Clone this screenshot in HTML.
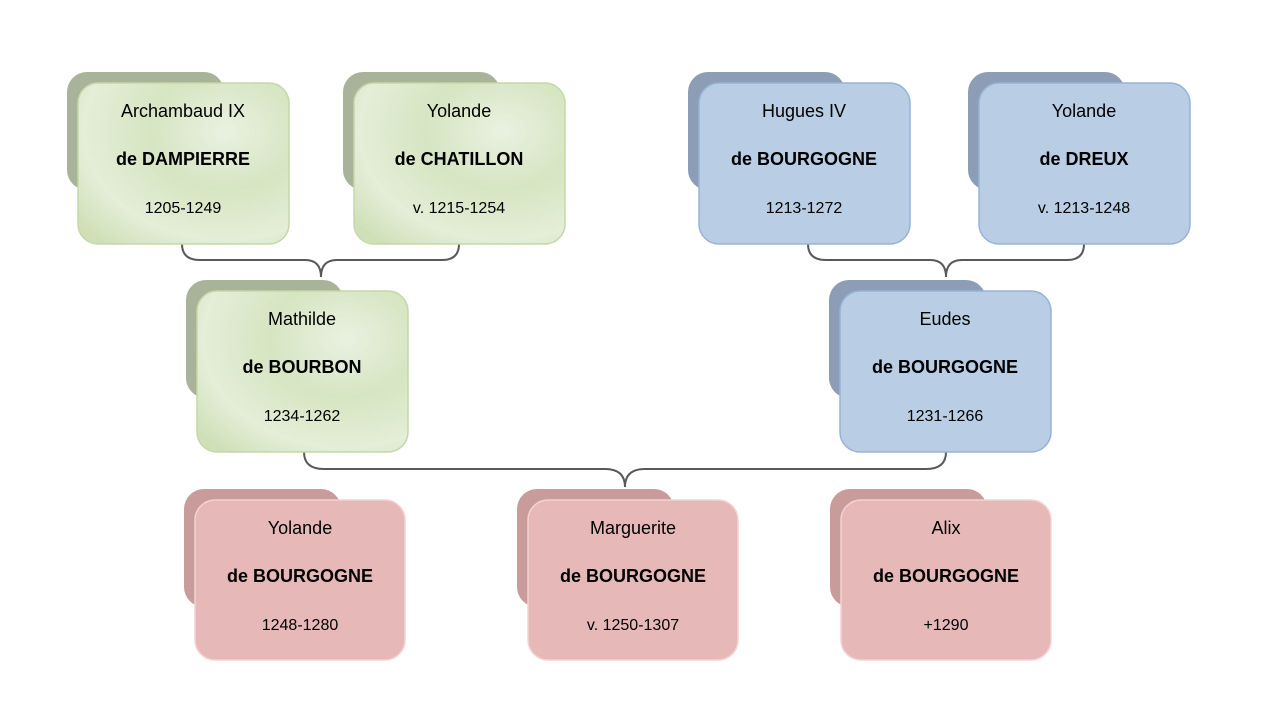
<!DOCTYPE html>
<html><head><meta charset="utf-8"><style>
html,body{margin:0;padding:0;background:#fff}
svg text{font-family:"Liberation Sans",Carlito,sans-serif;fill:#000}
</style></head><body>
<svg width="1281" height="720" viewBox="0 0 1281 720" xmlns="http://www.w3.org/2000/svg">
<defs>
<radialGradient id="g" cx="0.7" cy="0.3" r="0.9">
<stop offset="0" stop-color="#eaf1e1"/><stop offset="0.4" stop-color="#d6e5c2"/><stop offset="0.75" stop-color="#e4eed8"/><stop offset="1" stop-color="#cfe0b8"/>
</radialGradient>
</defs>
<g fill="none" stroke="#595959" stroke-width="2">
<path d="M182,244 Q182,260 200,260 L305,260 Q321,260 321,277 Q321,260 337,260 L442,260 Q459,260 459,244"/>
<path d="M808,244 Q808,260 826,260 L930,260 Q946,260 946,277 Q946,260 962,260 L1067,260 Q1084,260 1084,244"/>
<path d="M304,452 Q304,469 324,469 L605,469 Q625,469 625,487 Q625,469 645,469 L926,469 Q946,469 946,452"/>
</g>
<g font-size="18" text-anchor="middle">
<g transform="translate(78,83)"><rect x="-11" y="-11" width="157" height="118" rx="20" fill="#a9b39a"/><rect x="0" y="0" width="211" height="161" rx="20" fill="url(#g)" stroke="#c4d8a8" stroke-width="1.5"/><text x="105" y="34">Archambaud IX</text><text x="105" y="82" font-weight="bold">de DAMPIERRE</text><text x="105" y="130" font-size="16">1205-1249</text></g>
<g transform="translate(354,83)"><rect x="-11" y="-11" width="157" height="118" rx="20" fill="#a9b39a"/><rect x="0" y="0" width="211" height="161" rx="20" fill="url(#g)" stroke="#c4d8a8" stroke-width="1.5"/><text x="105" y="34">Yolande</text><text x="105" y="82" font-weight="bold">de CHATILLON</text><text x="105" y="130" font-size="16">v. 1215-1254</text></g>
<g transform="translate(197,291)"><rect x="-11" y="-11" width="157" height="118" rx="20" fill="#a9b39a"/><rect x="0" y="0" width="211" height="161" rx="20" fill="url(#g)" stroke="#c4d8a8" stroke-width="1.5"/><text x="105" y="34">Mathilde</text><text x="105" y="82" font-weight="bold">de BOURBON</text><text x="105" y="130" font-size="16">1234-1262</text></g>
<g transform="translate(699,83)"><rect x="-11" y="-11" width="157" height="118" rx="20" fill="#8d9db5"/><rect x="0" y="0" width="211" height="161" rx="20" fill="#b9cde5" stroke="#95b3d7" stroke-width="1.5"/><text x="105" y="34">Hugues  IV</text><text x="105" y="82" font-weight="bold">de BOURGOGNE</text><text x="105" y="130" font-size="16">1213-1272</text></g>
<g transform="translate(979,83)"><rect x="-11" y="-11" width="157" height="118" rx="20" fill="#8d9db5"/><rect x="0" y="0" width="211" height="161" rx="20" fill="#b9cde5" stroke="#95b3d7" stroke-width="1.5"/><text x="105" y="34">Yolande</text><text x="105" y="82" font-weight="bold">de DREUX</text><text x="105" y="130" font-size="16">v. 1213-1248</text></g>
<g transform="translate(840,291)"><rect x="-11" y="-11" width="157" height="118" rx="20" fill="#8d9db5"/><rect x="0" y="0" width="211" height="161" rx="20" fill="#b9cde5" stroke="#95b3d7" stroke-width="1.5"/><text x="105" y="34">Eudes</text><text x="105" y="82" font-weight="bold">de BOURGOGNE</text><text x="105" y="130" font-size="16">1231-1266</text></g>
<g transform="translate(195,500)"><rect x="-11" y="-11" width="157" height="118" rx="20" fill="#c99b9b"/><rect x="0" y="0" width="210" height="160" rx="20" fill="#e6b9b8" stroke="#f2d3d2" stroke-width="1.5"/><text x="105" y="34">Yolande</text><text x="105" y="82" font-weight="bold">de BOURGOGNE</text><text x="105" y="130" font-size="16">1248-1280</text></g>
<g transform="translate(528,500)"><rect x="-11" y="-11" width="157" height="118" rx="20" fill="#c99b9b"/><rect x="0" y="0" width="210" height="160" rx="20" fill="#e6b9b8" stroke="#f2d3d2" stroke-width="1.5"/><text x="105" y="34">Marguerite</text><text x="105" y="82" font-weight="bold">de BOURGOGNE</text><text x="105" y="130" font-size="16">v. 1250-1307</text></g>
<g transform="translate(841,500)"><rect x="-11" y="-11" width="157" height="118" rx="20" fill="#c99b9b"/><rect x="0" y="0" width="210" height="160" rx="20" fill="#e6b9b8" stroke="#f2d3d2" stroke-width="1.5"/><text x="105" y="34">Alix</text><text x="105" y="82" font-weight="bold">de BOURGOGNE</text><text x="105" y="130" font-size="16">+1290</text></g>
</g>
</svg>
</body></html>
